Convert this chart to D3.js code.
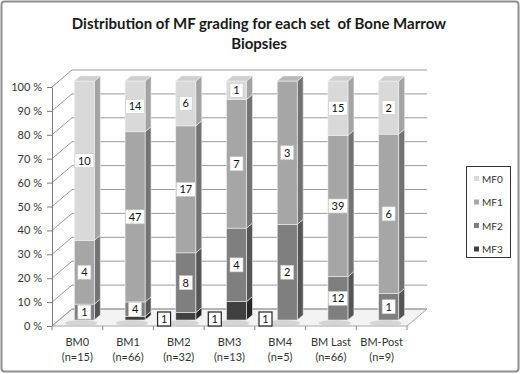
<!DOCTYPE html>
<html>
<head>
<meta charset="utf-8">
<script src="https://cdn.jsdelivr.net/npm/d3@7"></script>
<style>
  body { margin: 0; background: #fff; }
  text { font-family: Lato, "Liberation Sans", sans-serif; }
</style>
</head>
<body>
<div id="chart"></div>
<script>
/* MF grading per set of bone marrow biopsies, pseudo 3D stacked 100% bars */

const categories = ["BM0", "BM1", "BM2", "BM3", "BM4", "BM Last", "BM-Post"];
const counts = [15, 66, 32, 13, 5, 66, 9];
const series = ["MF3", "MF2", "MF1", "MF0"];   // bottom to top
const mf0 = [10, 14, 6, 1, 0, 15, 2];
const mf1 = [4, 47, 17, 7, 3, 39, 6];
const mf2 = [1, 4, 8, 4, 2, 12, 1];
const mf3 = [0, 1, 1, 1, 0, 0, 0];
const yTicks = [0, 0.1, 0.2, 0.3, 0.4, 0.5, 0.6, 0.7, 0.8, 0.9, 1];

const width = 520, height = 374;
const margin = { top: 87, right: 95, bottom: 48, left: 52 };
const depthX = 20, depthY = -17;   // offset of the back wall
const zFront = 0.35, zBack = 0.65; // where the bars sit in the depth
const barW = 20;

const colors = {
    MF0: { front: "#d9d9d9", side: "#a3a3a3", top: "#cfcfcf" },
    MF1: { front: "#a6a6a6", side: "#737373", top: "#b8b8b8" },
    MF2: { front: "#7f7f7f", side: "#555555", top: "#999999" },
    MF3: { front: "#404040", side: "#262626", top: "#5a5a5a" }
};

// table for d3.stack
const table = categories.map((c, i) => ({
    cat: c, MF0: mf0[i], MF1: mf1[i], MF2: mf2[i], MF3: mf3[i]
}));
const stacked = d3.stack().keys(series).offset(d3.stackOffsetExpand)(table);

const svg = d3.select("#chart").append("svg")
    .attr("width", width).attr("height", height)
    .attr("viewBox", [0, 0, width, height]);

// chart border
svg.append("rect")
    .attr("x", 1.5).attr("y", 1.5)
    .attr("width", width - 3).attr("height", height - 4)
    .attr("rx", 3)
    .attr("fill", "#fff").attr("stroke", "#8f8f8f").attr("stroke-width", 2);

// title
const title = svg.append("text")
    .attr("text-anchor", "middle")
    .style("font-weight", "bold").style("font-size", "15px")
    .style("white-space", "pre")
    .attr("fill", "#1a1a1a");
title.append("tspan").attr("x", 259).attr("y", 29)
    .text("Distribution of MF grading for each set  of Bone Marrow");
title.append("tspan").attr("x", 259).attr("y", 49).text("Biopsies");

const x = d3.scaleBand()
    .domain(categories)
    .range([margin.left, width - margin.right - depthX + 2]);

const y = d3.scaleLinear()
    .domain([0, 1])
    .range([height - margin.bottom, margin.top]);

const x0 = x.range()[0], x1 = x.range()[1];

// floor
svg.append("polygon")
    .attr("points", [[x0, y(0)], [x1, y(0)], [x1 + depthX, y(0) + depthY], [x0 + depthX, y(0) + depthY]].join(" "))
    .attr("fill", "#f3f3f3").attr("stroke", "#a8a8a8").attr("stroke-width", 1);

// gridlines on left wall and back wall
const grid = svg.append("g").attr("stroke", "#9a9a9a").attr("stroke-width", 1).attr("fill", "none");
for (let t of yTicks) {
    grid.append("polyline")
        .attr("points", [[x0, y(t)], [x0 + depthX, y(t) + depthY], [x1 + depthX, y(t) + depthY]].join(" "));
}

// y axis
svg.append("g")
    .attr("transform", `translate(${x0},0)`)
    .call(d3.axisLeft(y).tickValues(yTicks).tickSize(5).tickPadding(5).tickSizeOuter(0)
        .tickFormat(d => Math.round(d * 100) + " %"))
    .call(g => g.select(".domain").attr("stroke", "#7a7a7a"))
    .call(g => g.selectAll(".tick line").attr("stroke", "#7a7a7a"))
    .call(g => g.selectAll("text").attr("fill", "#333").style("font-size", "11px"));

// x axis ticks at band edges
const edges = categories.map(c => x(c)).concat([x1]);
svg.append("g").selectAll("line")
    .data(edges)
    .join("line")
    .attr("x1", d => d).attr("x2", d => d)
    .attr("y1", y(0)).attr("y2", y(0) + 4)
    .attr("stroke", "#8a8a8a");

// x labels
const xl = svg.append("g").selectAll("text")
    .data(categories)
    .join("text")
    .attr("text-anchor", "middle")
    .attr("fill", "#333")
    .style("font-size", "11px");
xl.append("tspan")
    .attr("x", d => x(d) + x.bandwidth() / 2).attr("y", 346)
    .text(d => d);
xl.append("tspan")
    .attr("x", d => x(d) + x.bandwidth() / 2).attr("y", 361)
    .text((d, i) => "(n=" + counts[i] + ")");

const pt = (px, py, z) => [px + z * depthX, py + z * depthY];

// bar shadows on the floor
svg.append("g").selectAll("ellipse")
    .data(categories)
    .join("ellipse")
    .attr("cx", d => x(d) + x.bandwidth() / 2 + 4)
    .attr("cy", y(0) - 3)
    .attr("rx", 16).attr("ry", 3)
    .attr("fill", "#c8c8c8").attr("opacity", 0.7);

// bars
const bars = svg.append("g");
stacked.forEach((layer, si) => {
    const key = layer.key;
    layer.forEach((seg, ci) => {
        if (seg[1] - seg[0] <= 0) return;
        const cat = categories[ci];
        const left = x(cat) + (x.bandwidth() - barW) / 2;
        const right = left + barW;
        const yb = y(seg[0]), yt = y(seg[1]);
        const g = bars.append("g").attr("stroke", "#eeeeee").attr("stroke-width", 0.6);
        // side
        g.append("polygon")
            .attr("points", [pt(right, yt, zFront), pt(right, yt, zBack), pt(right, yb, zBack), pt(right, yb, zFront)].join(" "))
            .attr("fill", colors[key].side);
        // front
        const f = pt(left, yt, zFront);
        g.append("rect")
            .attr("x", f[0]).attr("y", f[1])
            .attr("width", barW).attr("height", yb - yt)
            .attr("fill", colors[key].front);
        // top only for the upper segment
        if (seg[1] >= 0.9999) {
            g.append("polygon")
                .attr("points", [pt(left, yt, zFront), pt(right, yt, zFront), pt(right, yt, zBack), pt(left, yt, zBack)].join(" "))
                .attr("fill", colors[key].top);
        }
    });
});

// data labels
const labels = svg.append("g").style("font-size", "11px");
stacked.forEach(layer => {
    const key = layer.key;
    layer.forEach((seg, ci) => {
        const v = seg.data[key];
        if (!v) return;
        const cat = categories[ci];
        const left = x(cat) + (x.bandwidth() - barW) / 2;
        let cx, cy, outside = false;
        if (key === "MF3") {
            // Excel put these outside, next to the floor
            cx = x(cat) + x.bandwidth() / 2 + 36;
            cy = 319;
            outside = true;
        } else {
            const p = pt(left + barW / 2, (y(seg[0]) + y(seg[1])) / 2, zFront);
            cx = p[0]; cy = p[1];
        }
        const txt = String(v);
        const bw = txt.length * 6 + 7;
        labels.append("rect")
            .attr("x", cx - bw / 2).attr("y", cy - 7)
            .attr("width", bw).attr("height", 14)
            .attr("fill", "#fff")
            .attr("stroke", outside ? "#222" : "#c8c8c8")
            .attr("stroke-width", outside ? 1.2 : 0.6);
        labels.append("text")
            .attr("x", cx).attr("y", cy + 4)
            .attr("text-anchor", "middle")
            .attr("fill", "#111")
            .text(txt);
    });
});

// legend
const legend = svg.append("g");
legend.append("rect")
    .attr("x", 466.5).attr("y", 166.5)
    .attr("width", 44).attr("height", 91)
    .attr("fill", "#fff").attr("stroke", "#333").attr("stroke-width", 1);
["MF0", "MF1", "MF2", "MF3"].forEach((k, i) => {
    const ly = 179 + i * 23.5;
    legend.append("rect")
        .attr("x", 474).attr("y", ly - 3)
        .attr("width", 5).attr("height", 5)
        .attr("fill", colors[k].front);
    legend.append("text")
        .attr("x", 482).attr("y", ly + 3.5)
        .attr("fill", "#333")
        .style("font-size", "10px")
        .text(k);
});
</script>
</body>
</html>
